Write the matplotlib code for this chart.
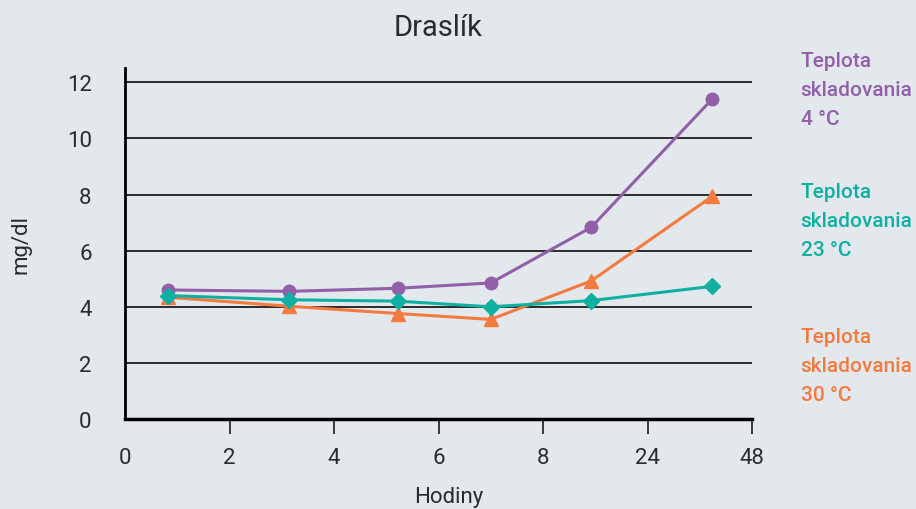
import matplotlib.pyplot as plt
import numpy as np

# x positions are on an evenly spaced tick axis (0,2,4,6,8,24,48 hours)
tick_labels = ["0", "2", "4", "6", "8", "24", "48"]
x_pos = [0.82, 3.14, 5.22, 7.0, 8.92, 11.24]

k_4c = [4.60, 4.55, 4.66, 4.85, 6.83, 11.41]
k_23c = [4.40, 4.25, 4.20, 4.00, 4.22, 4.73]
k_30c = [4.34, 4.02, 3.76, 3.55, 4.92, 7.94]

series_names = ["Teplota\nskladovania\n4 °C", "Teplota\nskladovania\n23 °C", "Teplota\nskladovania\n30 °C"]

purple = "#9160a9"
teal = "#0fb0a2"
orange = "#f57a40"
bg = "#e2e8ec"
txt = "#2b2b2b"

plt.rcParams["font.family"] = ["Roboto", "DejaVu Sans"]

fig = plt.figure(figsize=(9.16, 5.10), dpi=100, facecolor=bg)
ax = fig.add_axes([0.1365, 0.1765, 0.6845, 0.6875])
ax.set_facecolor(bg)

for y in range(2, 13, 2):
    ax.axhline(y, color="#2a2a2a", lw=1.4, zorder=1)

ax.plot(x_pos, k_4c, color=purple, lw=2.2, marker="o", ms=9, zorder=3)
ax.plot(x_pos, k_23c, color=teal, lw=2.2, marker="D", ms=8, zorder=4)
ax.plot(x_pos, k_30c, color=orange, lw=2.2, marker="^", ms=10, zorder=3)

ax.set_xlim(0, 12)
ax.set_ylim(0, 12.5)
ax.set_xticks(np.arange(0, 13, 2))
ax.set_xticklabels(tick_labels)
ax.set_yticks(range(0, 13, 2))

for s in ["top", "right"]:
    ax.spines[s].set_visible(False)
ax.spines["left"].set_linewidth(2)
ax.spines["bottom"].set_linewidth(2.5)

ax.tick_params(axis="x", length=11, width=1.3, direction="out", pad=9,
               labelsize=16, colors=txt)
ax.tick_params(axis="y", length=0, pad=24, labelsize=16, colors=txt)
ax.xaxis.get_major_ticks()[0].tick1line.set_visible(False)

ax.set_title("Draslík", fontsize=21, color=txt, pad=24)
ax.set_xlabel("Hodiny", fontsize=16, color=txt, labelpad=14)
ax.xaxis.set_label_coords(0.517, -0.19)
ax.set_ylabel("mg/dl", fontsize=16, color=txt, labelpad=25)

for name, c, yy in zip(series_names, [purple, teal, orange], [0.898, 0.641, 0.357]):
    fig.text(0.874, yy, name, color=c, fontsize=15, fontweight="medium",
             va="top", ha="left", linespacing=1.68)

fig.savefig("out.png", dpi=100, facecolor=bg)
